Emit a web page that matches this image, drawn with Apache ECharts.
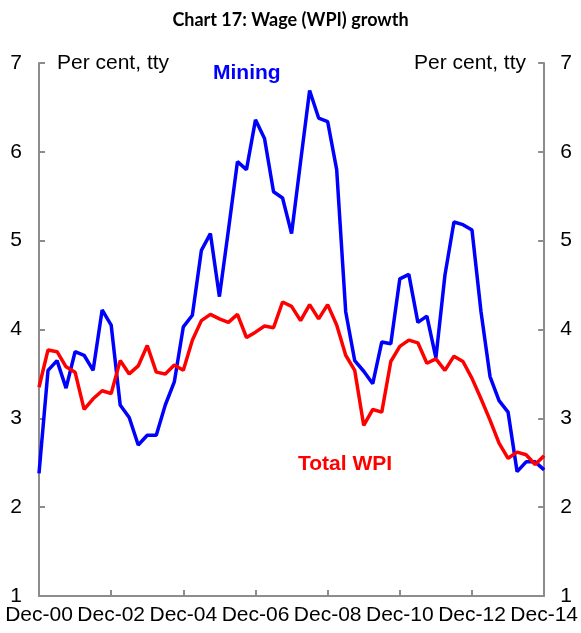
<!DOCTYPE html>
<html>
<head>
<meta charset="utf-8">
<script src="https://cdn.jsdelivr.net/npm/echarts@6/dist/echarts.min.js"></script>
<style>
  html, body { margin: 0; padding: 0; background: #fff; }
  #chart { width: 581px; height: 633px; }
</style>
</head>
<body>
<div id="chart"></div>
<script>
// quarterly, Dec-00 .. Dec-14
const months = ['Dec', 'Mar', 'Jun', 'Sep']
const quarters = []
for (let i = 0; i < 57; i++) {
  const yr = 2000 + Math.floor((i + 3) / 4)
  quarters.push(months[i % 4] + '-' + String(yr).slice(2))
}

// Mining WPI growth, per cent tty
const mining = [
  2.38, 3.54, 3.65, 3.34, 3.75, 3.71, 3.54, 4.22, 4.05, 3.15,
  3.01, 2.70, 2.81, 2.81, 3.15, 3.41, 4.03, 4.16, 4.89, 5.08,
  4.37, 5.12, 5.89, 5.80, 6.36, 6.15, 5.55, 5.48, 5.08, 5.89,
  6.69, 6.38, 6.34, 5.80, 4.20, 3.65, 3.53, 3.39, 3.86, 3.84,
  4.57, 4.62, 4.08, 4.15, 3.68, 4.61, 5.21, 5.18, 5.12, 4.20,
  3.47, 3.20, 3.07, 2.40, 2.51, 2.51, 2.42
]

// Total WPI growth, per cent tty
const totalWpi = [
  3.35, 3.77, 3.75, 3.58, 3.52, 3.10, 3.22, 3.31, 3.28, 3.65,
  3.50, 3.59, 3.82, 3.52, 3.50, 3.60, 3.54, 3.88, 4.10, 4.17,
  4.12, 4.08, 4.17, 3.91, 3.97, 4.04, 4.02, 4.31, 4.26, 4.10,
  4.28, 4.12, 4.28, 4.05, 3.71, 3.54, 2.92, 3.10, 3.07, 3.64,
  3.81, 3.88, 3.85, 3.62, 3.67, 3.54, 3.70, 3.64, 3.45, 3.22,
  2.98, 2.72, 2.55, 2.62, 2.59, 2.48, 2.58
]

const axisGrey = '#8c8c8c'
const chart = echarts.init(document.getElementById('chart'))

function valueAxis(pos) {
  return {
    type: 'value',
    position: pos,
    min: 1,
    max: 7,
    interval: 1,
    axisLine: { show: true, lineStyle: { color: axisGrey, width: 2 } },
    axisTick: { show: true, inside: true, length: 6, lineStyle: { color: axisGrey, width: 2 } },
    axisLabel: {
      color: '#000',
      fontFamily: 'Liberation Sans',
      fontSize: 21,
      margin: pos === 'left' ? 17 : 16
    },
    splitLine: { show: false }
  }
}

chart.setOption({
  backgroundColor: '#fff',
  animation: false,
  title: {
    text: 'Chart 17: Wage (WPI) growth',
    left: 'center',
    top: 6,
    textStyle: { fontFamily: 'Lato', fontWeight: 'bold', fontSize: 18, color: '#000' }
  },
  grid: { left: 39, right: 35, top: 63, bottom: 37, containLabel: false },
  xAxis: {
    type: 'category',
    boundaryGap: false,
    data: quarters,
    axisLine: { lineStyle: { color: axisGrey, width: 2 } },
    axisTick: { inside: true, length: 6, interval: 7, lineStyle: { color: axisGrey, width: 2 } },
    axisLabel: {
      interval: 7,
      color: '#000',
      fontFamily: 'Liberation Sans',
      fontSize: 21,
      margin: 9
    }
  },
  yAxis: [valueAxis('left'), valueAxis('right')],
  series: [
    {
      name: 'Mining',
      type: 'line',
      data: mining,
      showSymbol: false,
      lineStyle: { color: '#0000ff', width: 3.5 },
      itemStyle: { color: '#0000ff' }
    },
    {
      name: 'Total WPI',
      type: 'line',
      data: totalWpi,
      showSymbol: false,
      lineStyle: { color: '#ff0000', width: 3.5 },
      itemStyle: { color: '#ff0000' }
    }
  ],
  graphic: [
    { type: 'text', left: 57, top: 53, style: { text: 'Per cent, tty', font: '21px "Liberation Sans"', fill: '#000' } },
    { type: 'text', right: 55, top: 53, style: { text: 'Per cent, tty', font: '21px "Liberation Sans"', fill: '#000' } },
    { type: 'text', left: 213, top: 63, style: { text: 'Mining', font: 'bold 21px "Liberation Sans"', fill: '#0000ff' } },
    { type: 'text', left: 298, top: 454, style: { text: 'Total WPI', font: 'bold 21px "Liberation Sans"', fill: '#ff0000' } }
  ]
})
</script>
</body>
</html>
